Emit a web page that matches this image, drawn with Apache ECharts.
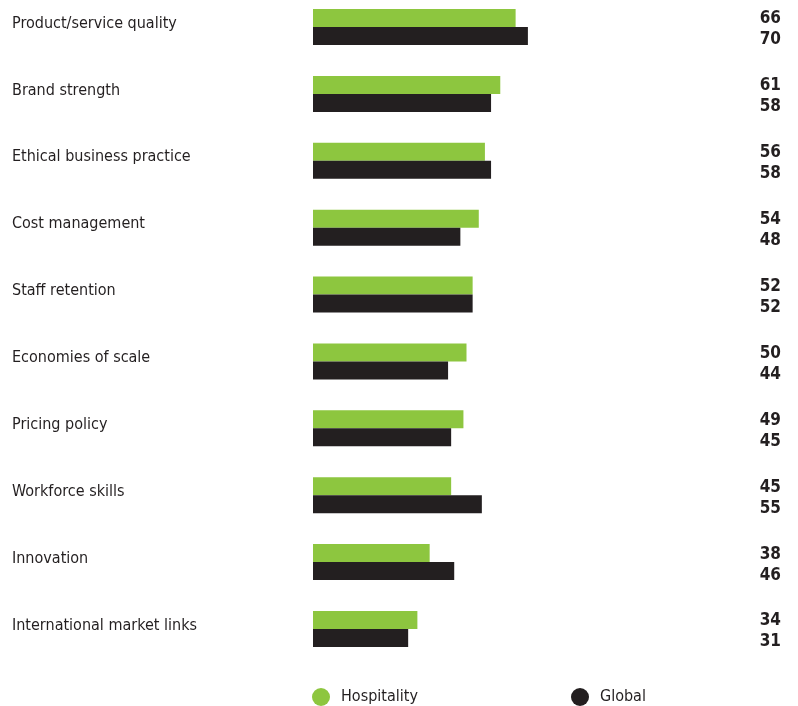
<!DOCTYPE html>
<html><head><meta charset="utf-8">
<script src="https://cdn.jsdelivr.net/npm/echarts@6/dist/echarts.min.js"></script>
<style>html,body{margin:0;padding:0;background:#fff}#c{width:798px;height:706px}</style>
</head><body><div id="c"></div>
<script>
const categories = ["Product/service quality","Brand strength","Ethical business practice","Cost management","Staff retention","Economies of scale","Pricing policy","Workforce skills","Innovation","International market links"];
const hospitality = [66,61,56,54,52,50,49,45,38,34];
const global = [70,58,58,48,52,44,45,55,46,31];
const seriesNames = ["Hospitality","Global"];
const FONT = '"DejaVu Sans Condensed","DejaVu Sans",sans-serif';
const DARK = '#231f20';
const chart = echarts.init(document.getElementById('c'));
const valueLabel = {
  show: true, position: [468, '50%'], align: 'right', verticalAlign: 'middle',
  fontFamily: FONT, fontSize: 17, fontWeight: 'bold', color: DARK
};
const legendText = { fontFamily: FONT, fontSize: 16, color: DARK, padding: [0, 0, 0, 6] };
chart.setOption({
  animation: false,
  grid: { left: 313, width: 307, top: 27, height: 602, containLabel: false },
  xAxis: { type: 'value', min: 0, max: 100, show: false },
  yAxis: {
    type: 'category', data: categories, inverse: true, boundaryGap: false,
    axisLine: { show: false }, axisTick: { show: false }, splitLine: { show: false },
    axisLabel: { align: 'left', verticalAlign: 'bottom', lineHeight: 7, margin: 301, fontFamily: FONT, fontSize: 16, color: DARK }
  },
  legend: [
    { data: [seriesNames[0]], left: 307, top: 683, icon: 'circle', itemWidth: 18, itemHeight: 18, itemGap: 0, itemTextGap: 11, textStyle: legendText },
    { data: [seriesNames[1]], left: 566, top: 683, icon: 'circle', itemWidth: 18, itemHeight: 18, itemGap: 0, itemTextGap: 11, textStyle: legendText }
  ],
  series: [
    { name: seriesNames[0], type: 'bar', data: hospitality, barWidth: 18, barGap: '0%', itemStyle: { color: '#8dc63f' }, label: Object.assign({}, valueLabel, {offset:[0,1]}) },
    { name: seriesNames[1], type: 'bar', data: global, barWidth: 18, barGap: '0%', itemStyle: { color: DARK }, label: Object.assign({}, valueLabel, {offset:[0,4]}) }
  ]
});
</script></body></html>
